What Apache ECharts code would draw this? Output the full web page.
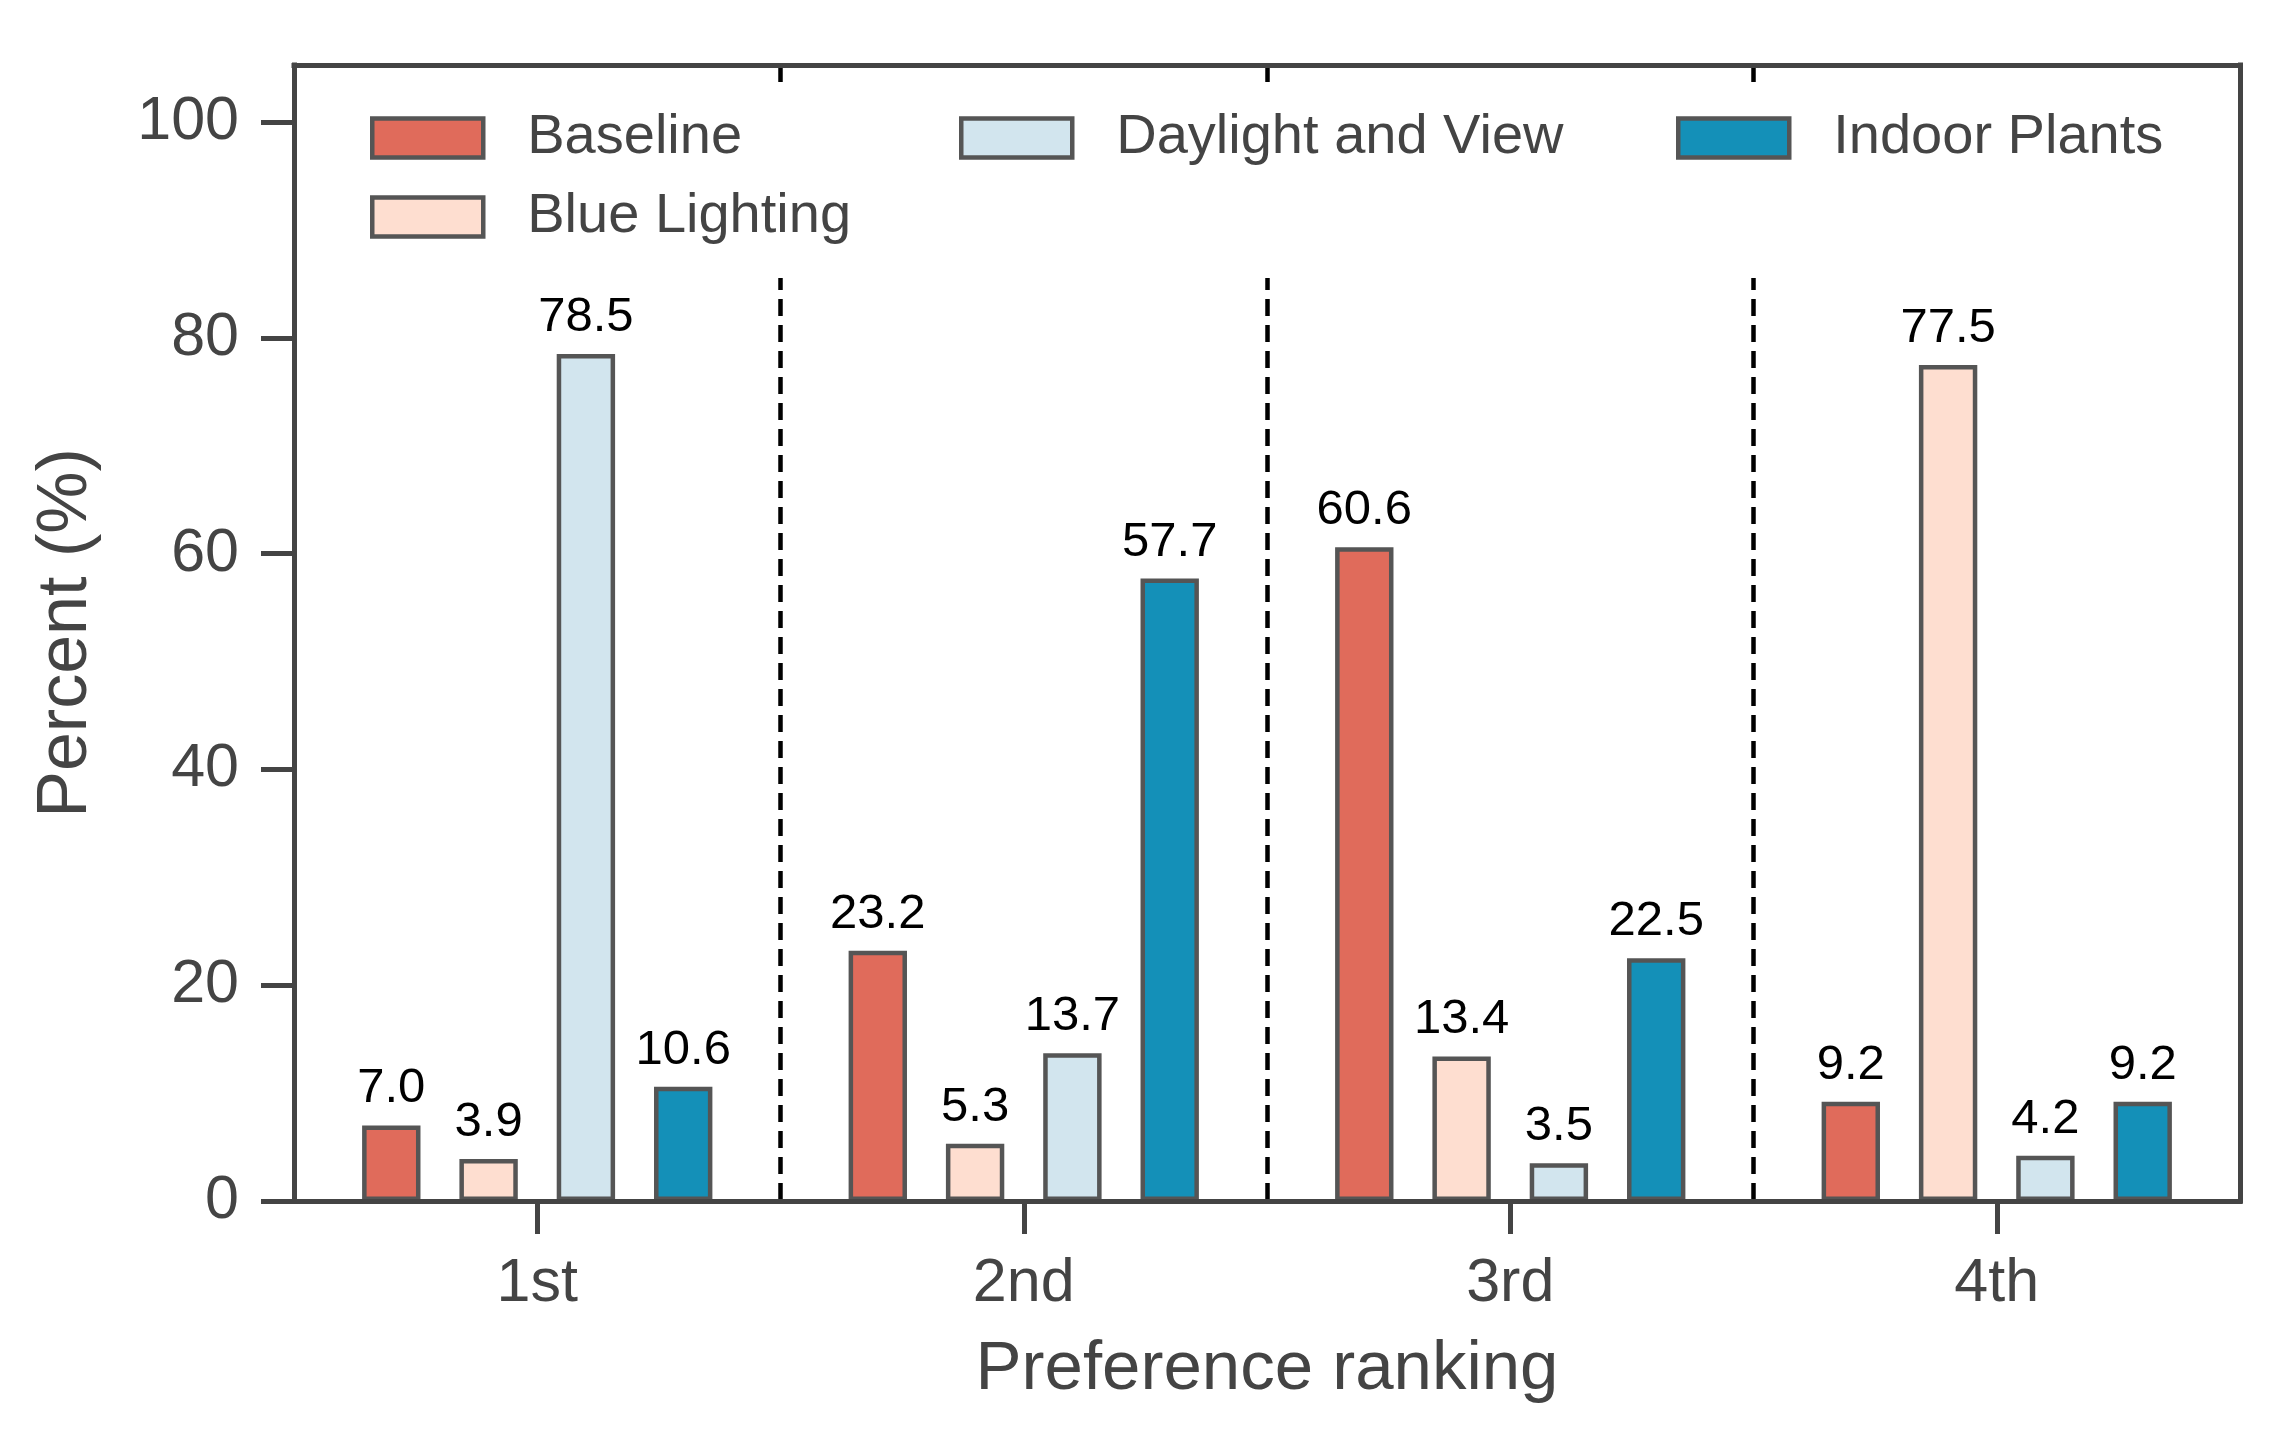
<!DOCTYPE html>
<html>
<head>
<meta charset="utf-8">
<script src="https://cdn.jsdelivr.net/npm/echarts@6/dist/echarts.min.js"></script>
<style>
html,body{margin:0;padding:0;background:#fff;}
#chart{width:2288px;height:1437px;}
</style>
</head>
<body>
<div id="chart"></div>
<script>
var categories = ['1st', '2nd', '3rd', '4th'];
var seriesNames = ['Baseline', 'Blue Lighting', 'Daylight and View', 'Indoor Plants'];
var baseline = [7.0, 23.2, 60.6, 9.2];
var blueLighting = [3.9, 5.3, 13.4, 77.5];
var daylightView = [78.5, 13.7, 3.5, 4.2];
var indoorPlants = [10.6, 57.7, 22.5, 9.2];
var yTicks = [0, 20, 40, 60, 80, 100];
var colors = ['#E06B5B', '#FEDED0', '#D2E5EE', '#1490B8'];

var FONT = 'Liberation Sans, Arial, Helvetica, sans-serif';
var AX = '#444444';
var EDGE = '#555555';
var values = [baseline, blueLighting, daylightView, indoorPlants];

var chart = echarts.init(document.getElementById('chart'), null, {renderer: 'canvas'});

var series = seriesNames.map(function (name, i) {
  return {
    name: name,
    type: 'bar',
    data: values[i],
    barWidth: '12%',
    barGap: '66.67%',
    z: 2,
    itemStyle: {color: colors[i], borderColor: EDGE, borderWidth: 4.5},
    label: {
      show: true,
      position: 'top',
      distance: 12,
      color: '#000',
      fontFamily: FONT,
      fontSize: 49,
      formatter: function (p) { return p.value.toFixed(1); }
    }
  };
});

var legendText = {
  color: AX,
  fontFamily: FONT,
  fontSize: 56,
  lineHeight: 56,
  padding: [0, 0, 0, 39]
};
var legendItemStyle = {borderColor: EDGE, borderWidth: 4.5};

var option = {
  backgroundColor: '#ffffff',
  animation: false,
  grid: {left: 294, right: 48, top: 65, bottom: 236, containLabel: false},
  legend: [
    {
      orient: 'vertical',
      left: 350, top: 91,
      padding: [19, 1335, 33, 20],
      backgroundColor: '#ffffff',
      z: 6,
      itemGap: 23,
      itemWidth: 111, itemHeight: 39,
      icon: 'rect',
      selectedMode: false,
      itemStyle: legendItemStyle,
      textStyle: legendText,
      data: [seriesNames[0], seriesNames[1]]
    },
    {
      orient: 'vertical',
      left: 959, top: 110, padding: 0,
      z: 7,
      itemWidth: 111, itemHeight: 39,
      icon: 'rect',
      selectedMode: false,
      itemStyle: legendItemStyle,
      textStyle: legendText,
      data: [seriesNames[2]]
    },
    {
      orient: 'vertical',
      left: 1676, top: 110, padding: 0,
      z: 7,
      itemWidth: 111, itemHeight: 39,
      icon: 'rect',
      selectedMode: false,
      itemStyle: legendItemStyle,
      textStyle: legendText,
      data: [seriesNames[3]]
    }
  ],
  xAxis: [
    {
      type: 'category',
      position: 'bottom',
      data: categories,
      z: 3,
      boundaryGap: true,
      name: 'Preference ranking',
      nameLocation: 'middle',
      nameGap: 134,
      nameTextStyle: {color: AX, fontFamily: FONT, fontSize: 69, verticalAlign: 'top'},
      axisLine: {show: true, onZero: false, lineStyle: {color: AX, width: 5, cap: 'square'}},
      axisTick: {show: true, alignWithLabel: true, length: 33, lineStyle: {color: AX, width: 5}},
      axisLabel: {color: AX, fontFamily: FONT, fontSize: 61, margin: 53},
      splitLine: {show: true, lineStyle: {color: '#000000', width: 4.5, type: [17, 9]}}
    },
    {
      type: 'category',
      position: 'top',
      data: categories,
      z: 5,
      axisLine: {show: true, onZero: false, lineStyle: {color: AX, width: 5, cap: 'square'}},
      axisTick: {show: false},
      axisLabel: {show: false},
      splitLine: {show: false}
    }
  ],
  yAxis: [
    {
      type: 'value',
      position: 'left',
      min: 0, max: 105.3, interval: 20,
      z: 5,
      name: 'Percent (%)',
      nameLocation: 'middle',
      nameGap: 192,
      nameTextStyle: {color: AX, fontFamily: FONT, fontSize: 70},
      axisLine: {show: true, onZero: false, lineStyle: {color: AX, width: 5, cap: 'square'}},
      axisTick: {show: true, length: 33, customValues: yTicks, lineStyle: {color: AX, width: 5}},
      axisLabel: {color: AX, fontFamily: FONT, fontSize: 61, margin: 55, customValues: yTicks},
      splitLine: {show: false}
    },
    {
      type: 'value',
      position: 'right',
      min: 0, max: 105.3,
      z: 5,
      axisLine: {show: true, onZero: false, lineStyle: {color: AX, width: 5, cap: 'square'}},
      axisTick: {show: false},
      axisLabel: {show: false},
      splitLine: {show: false}
    }
  ],
  series: series
};

chart.setOption(option);
</script>
</body>
</html>
